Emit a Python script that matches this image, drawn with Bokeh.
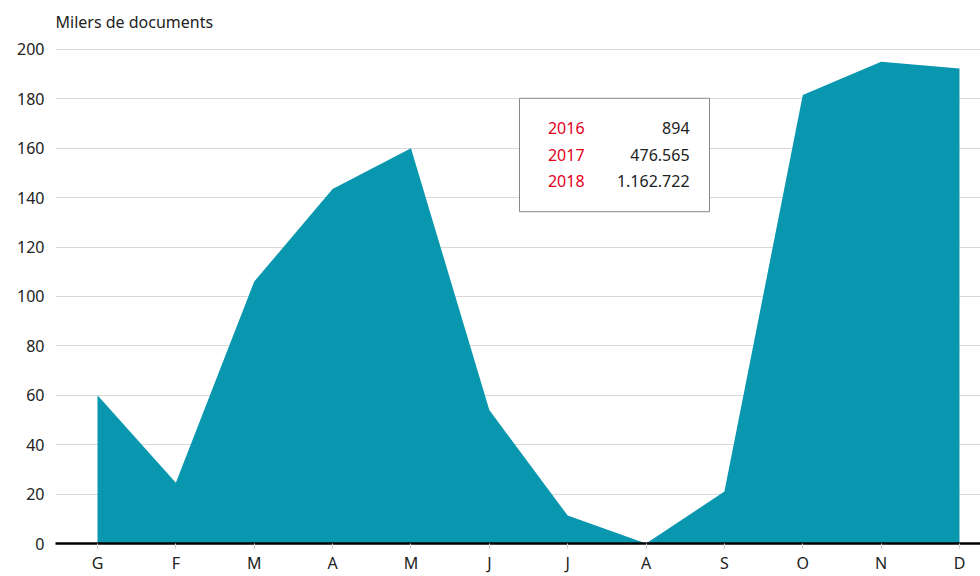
from bokeh.plotting import figure
from bokeh.models import FixedTicker, ColumnDataSource, Range1d
from bokeh.core.properties import value
from bokeh.embed import file_html
from bokeh.resources import INLINE

months = ["G", "F", "M", "A", "M", "J", "J", "A", "S", "O", "N", "D"]
docs_thousands = [60, 24.6, 106, 143.5, 160, 54, 11.3, 0, 21, 181.5, 195, 192.3]
years = ["2016", "2017", "2018"]
year_totals = ["894", "476.565", "1.162.722"]
y_ticks = [0, 20, 40, 60, 80, 100, 120, 140, 160, 180, 200]

FONT = "Noto Sans"
TEAL = "#0897ae"

idx = list(range(len(months)))

p = figure(width=980, height=576, output_backend="svg", toolbar_location=None,
           x_range=Range1d(-0.536, 11.268), y_range=Range1d(0, 203.6),
           min_border_left=55, min_border_right=0, min_border_top=0, min_border_bottom=31)
p.outline_line_color = None
p.background_fill_color = "white"

p.title.text = "Milers de documents"
p.title.text_font = FONT
p.title.text_font_size = "16px"
p.title.text_font_style = "normal"
p.title.text_color = "#222222"
p.title.offset = 0
p.title.standoff = 16

src = ColumnDataSource(dict(x=idx, y=docs_thousands))
p.varea(x="x", y1=0, y2="y", source=src, fill_color=TEAL)

# x axis
p.xaxis.ticker = FixedTicker(ticks=idx)
p.xaxis.major_label_overrides = {i: m for i, m in enumerate(months)}
p.xaxis.axis_line_color = "black"
p.xaxis.axis_line_width = 2.5
p.xaxis.major_tick_line_color = "#cccccc"
p.xaxis.major_tick_in = 0
p.xaxis.major_tick_out = 5
p.xaxis.minor_tick_line_color = None
p.xaxis.major_label_standoff = 3
p.xaxis.major_label_text_font = FONT
p.xaxis.major_label_text_font_size = "16px"
p.xaxis.major_label_text_color = "#222222"
p.xgrid.grid_line_color = None

# y axis
p.yaxis.ticker = FixedTicker(ticks=y_ticks)
p.yaxis.axis_line_color = None
p.yaxis.major_tick_line_color = None
p.yaxis.major_tick_out = 0
p.yaxis.major_tick_in = 0
p.yaxis.minor_tick_line_color = None
p.yaxis.major_label_standoff = 11
p.yaxis.major_label_text_font = FONT
p.yaxis.major_label_text_font_size = "16px"
p.yaxis.major_label_text_color = "#222222"
p.ygrid.grid_line_color = "#d9d9d9"
p.ygrid.grid_line_width = 1

# summary box
p.quad(left=[5.385], right=[7.81], top=[180.2], bottom=[134.3],
       fill_color="white", fill_alpha=1, line_color="#888888", line_width=1)
row_y = [168.1, 157.3, 146.8]
p.text(x=[6.215] * 3, y=row_y, text=years, text_align="right", text_baseline="middle",
       text_font=value(FONT), text_font_size="16px", text_color="#e2001a")
p.text(x=[7.555] * 3, y=row_y, text=year_totals, text_align="right", text_baseline="middle",
       text_font=value(FONT), text_font_size="16px", text_color="#222222")

open("out.html", "w").write(file_html(p, INLINE))
